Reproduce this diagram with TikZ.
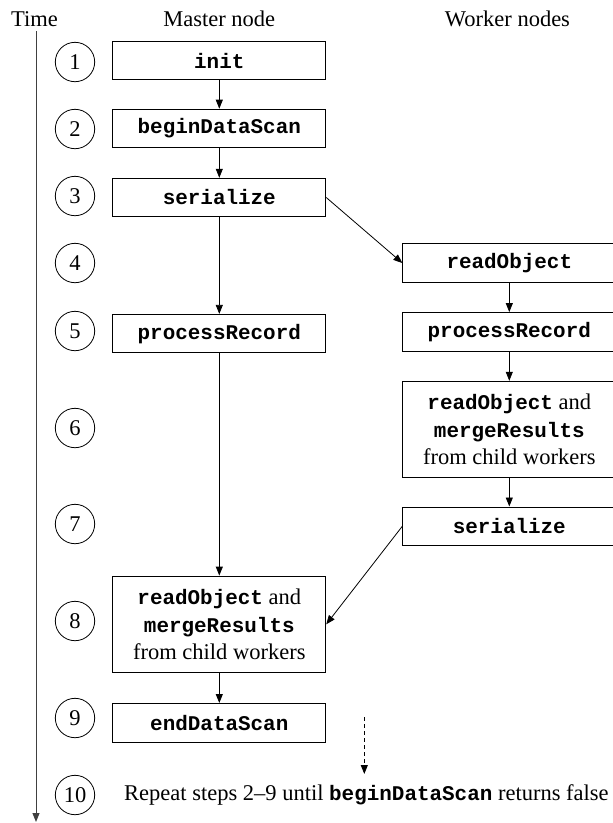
\documentclass[tikz,border=0pt]{standalone}
\usepackage{fontspec}
\setmainfont{Liberation Serif}
\setmonofont[Scale=0.93]{Liberation Mono}
\usetikzlibrary{positioning, arrows.meta}
\newcommand{\meth}[1]{\texttt{\bfseries #1}}

\begin{document}
\begin{tikzpicture}[
        x=1pt, y=-1pt,
        font=\fontsize{22.5}{27.5}\selectfont,
        stepbox/.style={draw, rectangle, line width=0.9pt, minimum width=213pt, minimum height=38.5pt, inner sep=0pt, align=center},
        tallbox/.style={stepbox, minimum height=96.5pt},
        stepnum/.style={draw, circle, line width=0.8pt, minimum size=39.4pt, inner sep=0pt},
        head/.style={anchor=base, inner sep=0pt},
        arrow/.style={-{Triangle[length=9pt, width=7pt]}, line width=0.8pt},
        timeline/.style={-{Triangle[length=9pt, width=7pt]}, line width=1pt, black!75}
    ]
    \useasboundingbox (0,0) rectangle (613,823);

    \node[head] (timehead) at (34.5,26) {Time};
    \node[head] (masterhead) at (219.3,26) {Master node};
    \node[head] (workerhead) at (507.5,26) {Worker nodes};

    \coordinate (ttop) at (36,31);
    \coordinate (tbot) at (36,822);
    \draw[timeline] (ttop) -- (tbot);

    \foreach \n/\y in {1/62, 2/129, 3/196, 4/263, 5/331, 6/428, 7/524, 8/621, 9/718, 10/795}
        \node[stepnum] (t\n) at (75,\y) {\n};

    % master node
    \node[stepbox] (minit) at (219.3,60.5) {\meth{init}};
    \node[stepbox, below=28.5pt of minit] (mbegin) {\meth{beginDataScan}};
    \node[stepbox, below=29.7pt of mbegin] (mser) {\meth{serialize}};
    \node[stepbox, below=96.7pt of mser] (mproc) {\meth{processRecord}};
    \node[tallbox, below=222.3pt of mproc] (mmerge) {\meth{readObject} and\\\meth{mergeResults}\\from child workers};
    \node[stepbox, below=30pt of mmerge] (mend) {\meth{endDataScan}};

    % worker nodes
    \node[stepbox] (wread) at (509.3,263) {\meth{readObject}};
    \node[stepbox, below=29.4pt of wread] (wproc) {\meth{processRecord}};
    \node[tallbox, below=29.3pt of wproc] (wmerge) {\meth{readObject} and\\\meth{mergeResults}\\from child workers};
    \node[stepbox, below=28.3pt of wmerge] (wser) {\meth{serialize}};

    \node[anchor=west, inner sep=0pt] (repeat) at (124,795) {Repeat steps 2--9 until \meth{beginDataScan} returns false};
    \coordinate (dtop) at (364.3,717);
    \coordinate (dbot) at (364.3,774);

    \draw[arrow] (minit) -- (mbegin);
    \draw[arrow] (mbegin) -- (mser);
    \draw[arrow] (mser) -- (mproc);
    \draw[arrow] (mproc) -- (mmerge);
    \draw[arrow] (mmerge) -- (mend);
    \draw[arrow] (mser.east) -- (wread.west);
    \draw[arrow] (wread) -- (wproc);
    \draw[arrow] (wproc) -- (wmerge);
    \draw[arrow] (wmerge) -- (wser);
    \draw[arrow] (wser.west) -- (mmerge.east);
    \draw[arrow, dash pattern=on 4pt off 3pt] (dtop) -- (dbot);

\end{tikzpicture}
\end{document}
